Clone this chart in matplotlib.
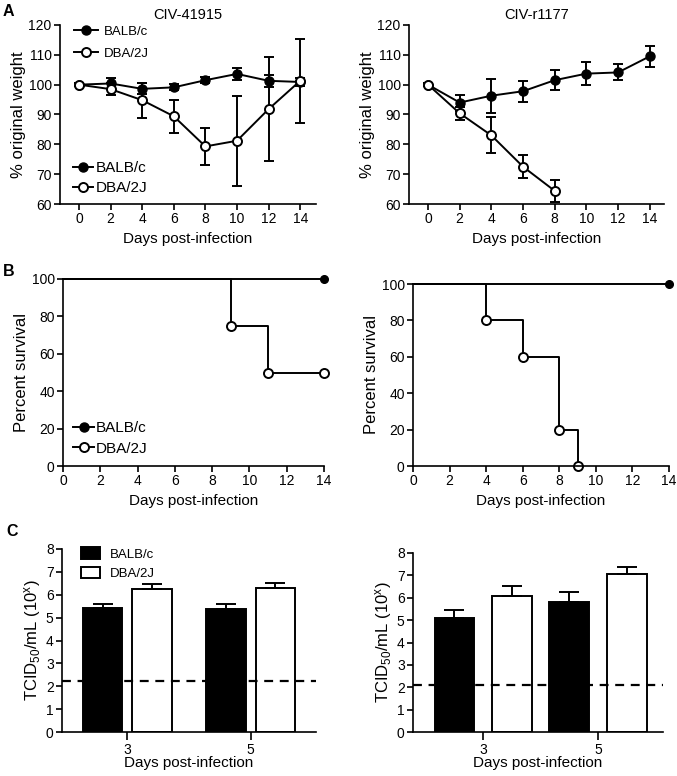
import numpy as np
import matplotlib
matplotlib.use("Agg")
import matplotlib.pyplot as plt
from matplotlib.lines import Line2D

plt.rcParams['font.family'] = ['Liberation Sans', 'DejaVu Sans']
plt.rcParams['mathtext.fontset'] = 'custom'
plt.rcParams['mathtext.rm'] = 'Liberation Sans'
plt.rcParams['mathtext.it'] = 'Liberation Sans'
plt.rcParams['axes.linewidth'] = 1.2

# ---- data ----
days = [0, 2, 4, 6, 8, 10, 12, 14]
strains = ["BALB/c", "DBA/2J"]

# A: weight, CIV-41915
w1_balb = [100, 100.4, 98.6, 99.1, 101.5, 103.6, 101.3, 100.9]
w1_balb_err = [0.5, 1.9, 1.8, 1.0, 1.0, 2.0, 2.0, 1.2]
w1_dba = [100, 98.5, 94.8, 89.4, 79.3, 81.2, 91.8, 101.3]
w1_dba_err = [0.5, 2.0, 5.9, 5.6, 6.2, 15.0, 17.5, 14.0]

# A: weight, CIV-r1177
w2_balb = [100, 94.0, 96.3, 97.8, 101.5, 103.7, 104.1, 109.5]
w2_balb_err = [0.5, 2.7, 5.7, 3.5, 3.4, 3.9, 2.7, 3.5]
w2_days_dba = [0, 2, 4, 6, 8]
w2_dba = [100, 90.4, 83.0, 72.5, 64.4]
w2_dba_err = [0.5, 2.2, 6.0, 3.8, 3.7]

# B: survival
s1_dba_days = [0, 9, 11, 14]
s1_dba = [100, 75, 50, 50]
s2_dba_days = [0, 4, 6, 8, 9]
s2_dba = [100, 80, 60, 20, 0]
balb_surv_days = [0, 14]
balb_surv = [100, 100]

# C: titers
titer_days = ["3", "5"]
t1_balb = [5.44, 5.38]
t1_balb_err = [0.17, 0.23]
t1_dba = [6.26, 6.29]
t1_dba_err = [0.19, 0.23]
t1_limit = 2.24
t2_balb = [5.08, 5.83]
t2_balb_err = [0.36, 0.42]
t2_dba = [6.08, 7.06]
t2_dba_err = [0.44, 0.30]
t2_limit = 2.08

W, H = 677, 776
fig = plt.figure(figsize=(W / 100, H / 100), dpi=100)


def ax_px(x0, y0, x1, y1):
    return fig.add_axes([x0 / W, 1 - y1 / H, (x1 - x0) / W, (y1 - y0) / H])


def style(ax):
    for s in ['top', 'right']:
        ax.spines[s].set_visible(False)
    ax.tick_params(direction='out', length=4, width=1.2, labelsize=10, pad=2)


lw = 1.4
ms = 6.5
ebkw = dict(capsize=3.5, elinewidth=lw, capthick=lw, lw=lw, color='black')

h_balb = Line2D([], [], color='black', lw=lw, marker='o', ms=ms, mfc='black')
h_dba = Line2D([], [], color='black', lw=lw, marker='o', ms=ms, mfc='white', mew=lw)


def bottom_legend(ax, x, y):
    ax.legend([h_balb, h_dba], strains, loc='lower left', bbox_to_anchor=(x, y), frameon=False,
              borderpad=0, fontsize=11, handlelength=1.35, handletextpad=0.15, labelspacing=0.4)


# ---- A left ----
ax = ax_px(60, 25, 316, 204)
style(ax)
ax.errorbar(days, w1_balb, yerr=w1_balb_err, marker='o', ms=ms, mfc='black', **ebkw)
ax.errorbar(days, w1_dba, yerr=w1_dba_err, marker='o', ms=ms, mfc='white', mew=lw, **ebkw)
ax.set_xlim(-1.2, 15)
ax.set_ylim(60, 120)
ax.set_yticks(range(60, 121, 10))
ax.set_xticks(range(0, 15, 2))
ax.set_xlabel("Days post-infection", fontsize=11)
ax.set_ylabel("% original weight", fontsize=12, labelpad=2)
ax.set_title("CIV-41915", fontsize=10.5, pad=4)
leg1 = ax.legend([h_balb, h_dba], strains, loc='upper left', bbox_to_anchor=(0.03, 1.035),
                 frameon=False, borderpad=0, fontsize=9.5, handlelength=1.8,
                 handletextpad=0.45, labelspacing=0.75)
ax.add_artist(leg1)
bottom_legend(ax, 0.02, 0.005)
fig.text(3 / W, 1 - 12 / H, "A", fontsize=11.5, fontweight='bold', va='center')

# ---- A right ----
ax = ax_px(409, 25, 664, 204)
style(ax)
ax.errorbar(days, w2_balb, yerr=w2_balb_err, marker='o', ms=ms, mfc='black', **ebkw)
ax.errorbar(w2_days_dba, w2_dba, yerr=w2_dba_err, marker='o', ms=ms, mfc='white', mew=lw, **ebkw)
ax.set_xlim(-1.2, 14.9)
ax.set_ylim(60, 120)
ax.set_yticks(range(60, 121, 10))
ax.set_xticks(range(0, 15, 2))
ax.set_xlabel("Days post-infection", fontsize=11)
ax.set_ylabel("% original weight", fontsize=12, labelpad=2)
ax.set_title("CIV-r1177", fontsize=10.5, pad=4)


# ---- B ----
def survival(ax, dba_days, dba_vals, legend):
    style(ax)
    ax.step(balb_surv_days, balb_surv, where='post', color='black', lw=lw, clip_on=False)
    ax.plot(balb_surv_days[-1:], balb_surv[-1:], 'o', color='black', ms=5.5, clip_on=False)
    ax.step(dba_days, dba_vals, where='post', color='black', lw=lw, clip_on=False)
    ax.plot(dba_days[1:], dba_vals[1:], 'o', color='black', mfc='white', mew=lw, ms=ms, clip_on=False)
    ax.set_xlim(0, 14)
    ax.set_ylim(0, 100)
    ax.set_xticks(range(0, 15, 2))
    ax.set_yticks(range(0, 101, 20))
    ax.set_xlabel("Days post-infection", fontsize=11)
    ax.set_ylabel("Percent survival", fontsize=12, labelpad=2)
    if legend:
        bottom_legend(ax, 0.01, 0.015)


ax = ax_px(63, 279, 324, 466)
survival(ax, s1_dba_days, s1_dba, True)
fig.text(3 / W, 1 - 272 / H, "B", fontsize=11.5, fontweight='bold', va='center')
ax = ax_px(413, 284, 669, 466)
survival(ax, s2_dba_days, s2_dba, False)


# ---- C ----
def titers(ax, balb, balb_err, dba, dba_err, limit, off, width, xlim, legend):
    style(ax)
    x = np.arange(len(titer_days))
    ekw = dict(capsize=7, elinewidth=lw, capthick=lw)
    ax.bar(x - off, balb, width, color='black', edgecolor='black', lw=lw,
           yerr=[np.zeros(len(balb)), balb_err], error_kw=ekw, label=strains[0])
    ax.bar(x + off, dba, width, color='white', edgecolor='black', lw=lw,
           yerr=[np.zeros(len(dba)), dba_err], error_kw=ekw, label=strains[1])
    ax.axhline(limit, color='black', lw=1.6, ls=(0, (4, 3)), zorder=5)
    ax.set_xlim(*xlim)
    ax.set_ylim(0, 8)
    ax.set_yticks(range(0, 9))
    ax.set_xticks(x)
    ax.set_xticklabels(titer_days)
    ax.tick_params(axis='x', length=6)
    ax.set_xlabel("Days post-infection", fontsize=11, labelpad=-1)
    ax.set_ylabel("TCID$_{50}$/mL (10$^{x}$)", fontsize=12, labelpad=2)
    if legend:
        ax.legend(loc='upper left', bbox_to_anchor=(0.05, 1.045), frameon=False, borderpad=0,
                  fontsize=9.5, handlelength=1.45, handleheight=0.95, handletextpad=0.7,
                  labelspacing=0.45)


ax = ax_px(62, 549, 316, 732)
titers(ax, t1_balb, t1_balb_err, t1_dba, t1_dba_err, t1_limit, 0.2, 0.32, (-0.53, 1.53), True)
fig.text(6 / W, 1 - 532 / H, "C", fontsize=11.5, fontweight='bold', va='center')
ax = ax_px(413, 553, 663, 732)
titers(ax, t2_balb, t2_balb_err, t2_dba, t2_dba_err, t2_limit, 0.25, 0.345, (-0.61, 1.565), False)

fig.savefig("out.png", dpi=100)
